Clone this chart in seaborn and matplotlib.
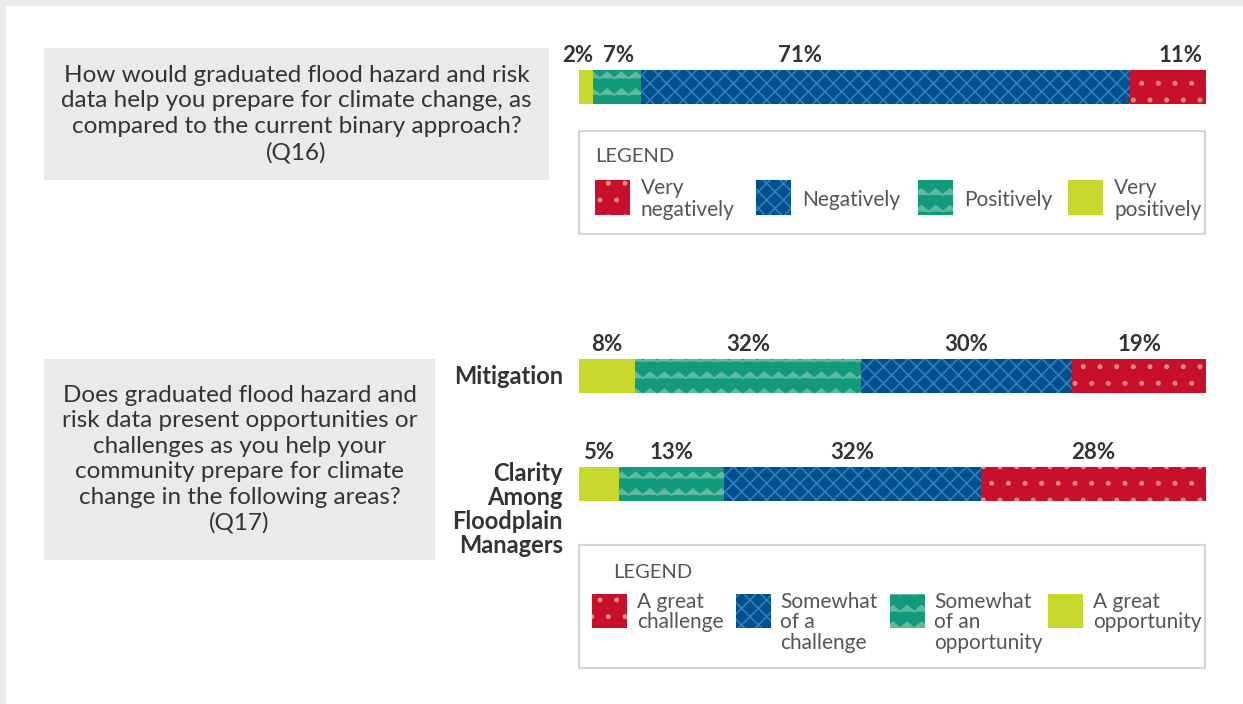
import numpy as np
import pandas as pd
import seaborn as sns
import matplotlib.pyplot as plt
import matplotlib.hatch as mhatch
from matplotlib.path import Path
from matplotlib.patches import Rectangle

# data
q16_text = ("How would graduated flood hazard and risk\n"
            "data help you prepare for climate change, as\n"
            "compared to the current binary approach?\n(Q16)")
q16_levels = ["Very positively", "Positively", "Negatively", "Very negatively"]
q16_values = [2, 7, 71, 11]
q16_legend = ["Very\nnegatively", "Negatively", "Positively", "Very\npositively"]

q17_text = ("Does graduated flood hazard and\n"
            "risk data present opportunities or\n"
            "challenges as you help your\n"
            "community prepare for climate\n"
            "change in the following areas?\n(Q17)")
q17_levels = ["A great opportunity", "Somewhat of an opportunity",
              "Somewhat of a challenge", "A great challenge"]
q17_areas = ["Mitigation", "Clarity\nAmong\nFloodplain\nManagers"]
q17_mitigation = [8, 32, 30, 19]
q17_clarity = [5, 13, 32, 28]
q17_legend = ["A great\nchallenge", "Somewhat\nof a\nchallenge",
              "Somewhat\nof an\nopportunity", "A great\nopportunity"]

# styles, left to right: lime, teal (zigzag), blue (lattice), red (dots)
fills = ["#c6d82c", "#139a7d", "#00508b", "#c8102e"]
patterns = [None, "*", "xx", "."]
pattern_colors = ["#c6d82c", "#5dbb9f", "#2f7fc1", "#e3906f"]
text_dark = "#333333"
text_mid = "#555555"
# label shifts in pixels for the Q16 bar (labels there are not centred)
q16_label_shift = [-8, 2, -86, 12]


# zigzag hatch, hooked in place of the star hatch
class ZigzagHatch(mhatch.HatchPatternBase):
    def __init__(self, hatch, density):
        self.num_rows = int(hatch.count("*") * density)
        self.teeth = 7
        self.num_vertices = self.num_rows * (2 * self.teeth + 1)

    def set_vertices_and_codes(self, vertices, codes):
        n = 2 * self.teeth + 1
        xs = np.linspace(0, 1, n)
        amp = 0.36 / self.num_rows
        cur = 0
        for i in range(self.num_rows):
            y0 = (i + 0.3) / self.num_rows
            vertices[cur:cur + n, 0] = xs
            vertices[cur:cur + n, 1] = y0 + amp * (np.arange(n) % 2)
            codes[cur] = Path.MOVETO
            codes[cur + 1:cur + n] = Path.LINETO
            cur += n


mhatch._hatch_types = [ZigzagHatch if t is mhatch.Stars else t
                       for t in mhatch._hatch_types]

sns.set_theme(style="white")
plt.rcParams["font.family"] = ["Lato", "DejaVu Sans"]
plt.rcParams["hatch.linewidth"] = 1.2

W, H = 1243, 704
fig = plt.figure(figsize=(W / 100, H / 100), dpi=100, facecolor="#e9eaed")


def frac(x0, y0, x1, y1):
    return [x0 / W, 1 - y1 / H, (x1 - x0) / W, (y1 - y0) / H]


# white panel
fig.add_artist(Rectangle((6 / W, 0), 1, 1 - 6 / H, transform=fig.transFigure,
                         facecolor="white", edgecolor="none", zorder=-5))


def question_box(x0, y0, x1, y1, text):
    fig.add_artist(Rectangle((x0 / W, 1 - y1 / H), (x1 - x0) / W, (y1 - y0) / H,
                             transform=fig.transFigure, facecolor="#e9eaec",
                             edgecolor="none"))
    fig.text((x0 + x1) / 2 / W, 1 - (y0 + y1) / 2 / H, text, ha="center",
             va="center", fontsize=17.5, color=text_dark, linespacing=1.26)


def stacked(ax, areas, values_by_area, levels, width, shifts=None):
    rows = []
    for area, vals in zip(areas, values_by_area):
        vals = np.array(vals, dtype=float)
        share = vals / vals.sum()
        cum = np.cumsum(share)
        for lvl, v, s, c in zip(levels, vals, share, cum):
            rows.append({"area": area, "level": lvl, "value": v,
                         "share": s, "cum": c})
    df = pd.DataFrame(rows)
    # draw from the right end back to the left so each layer covers the last
    for i in reversed(range(len(levels))):
        sub = df[df["level"] == levels[i]]
        sns.barplot(data=sub, x="cum", y="area", order=areas, ax=ax,
                    color=fills[i], saturation=1, width=width, errorbar=None,
                    hatch=patterns[i], edgecolor=pattern_colors[i], linewidth=0)
    for j, area in enumerate(areas):
        sub = df[df["area"] == area].reset_index(drop=True)
        for k, r in sub.iterrows():
            dx = 0 if shifts is None else shifts[k] * 0.72
            ax.annotate(f"{int(r['value'])}%", (r["cum"] - r["share"] / 2, j - width / 2),
                        xytext=(dx, 3), textcoords="offset points", ha="center",
                        va="bottom", fontsize=16, fontweight="bold", color=text_dark,
                        annotation_clip=False)
    ax.set_xlim(0, 1)
    ax.set_ylim(len(areas) - 1 + width / 2, -width / 2)
    ax.set_axis_off()
    return df


def legend_box(x0, y0, x1, y1, title_xy, swatch_x, text_x, sw_y0, sw_y1, labels,
               spacing):
    fig.add_artist(Rectangle((x0 / W, 1 - y1 / H), (x1 - x0) / W, (y1 - y0) / H,
                             transform=fig.transFigure, facecolor="white",
                             edgecolor="#d4d4d4", linewidth=1.5))
    fig.text(title_xy[0] / W, 1 - title_xy[1] / H, "LEGEND", ha="left",
             va="center", fontsize=14.5, color=text_mid)
    # legend runs red, blue, teal, lime
    for k, (sx, tx, lab) in enumerate(zip(swatch_x, text_x, labels)):
        i = len(fills) - 1 - k
        fig.add_artist(Rectangle((sx / W, 1 - sw_y1 / H), 35 / W, (sw_y1 - sw_y0) / H,
                                 transform=fig.transFigure, facecolor=fills[i],
                                 hatch=patterns[i], edgecolor=pattern_colors[i],
                                 linewidth=0))
        if "\n" in lab:
            fig.text(tx / W, 1 - (sw_y0 - 2) / H, lab, ha="left", va="top",
                     fontsize=15, color=text_mid, linespacing=spacing)
        else:
            fig.text(tx / W, 1 - (sw_y0 + sw_y1 + 4) / 2 / H, lab, ha="left",
                     va="center", fontsize=15, color=text_mid)


# Q16
question_box(44, 48, 549, 180, q16_text)
ax1 = fig.add_axes(frac(579, 70, 1206, 104))
stacked(ax1, ["Q16"], [q16_values], q16_levels, 1.0, q16_label_shift)
legend_box(579, 131, 1205, 234, (595, 157), [595, 756, 918, 1068],
           [641, 802, 964, 1114], 180, 215, q16_legend, 1.14)

# Q17
question_box(44, 359, 435, 560, q17_text)
w17 = 0.31
ax2 = fig.add_axes(frac(579, 359, 1206, 501))
stacked(ax2, q17_areas, [q17_mitigation, q17_clarity], q17_levels, w17)
fig.text(563 / W, 1 - 377 / H, q17_areas[0], ha="right", va="center",
         fontsize=17, fontweight="bold", color=text_dark)
fig.text(563 / W, 1 - 462 / H, q17_areas[1], ha="right", va="top",
         fontsize=17, fontweight="bold", color=text_dark, linespacing=1.06)
legend_box(579, 545, 1205, 668, (613, 572), [592, 736, 890, 1048],
           [637, 780, 934, 1093], 594, 628, q17_legend, 1.03)

fig.savefig("out.png", dpi=100, facecolor=fig.get_facecolor())
